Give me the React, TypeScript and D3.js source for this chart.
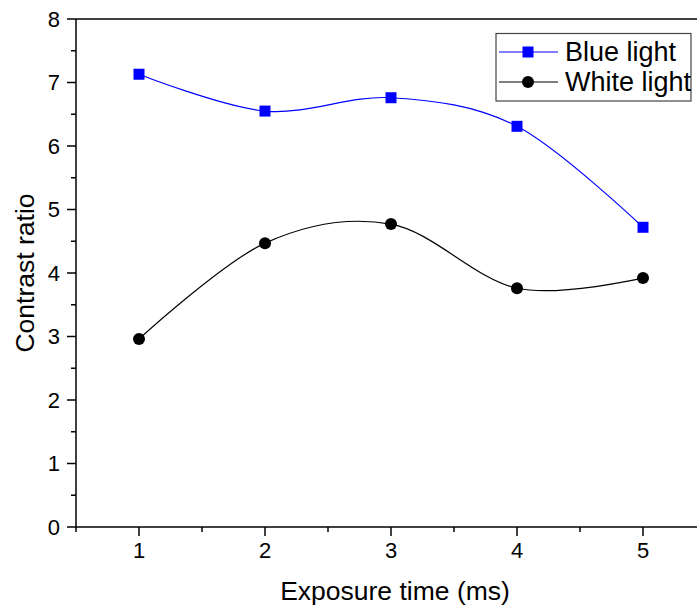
import React from "react";
import * as d3 from "d3";

const exposureTimes = [1, 2, 3, 4, 5];
const blueLight = [7.13, 6.55, 6.76, 6.31, 4.72];
const whiteLight = [2.96, 4.47, 4.77, 3.76, 3.92];
const yTicks = [0, 1, 2, 3, 4, 5, 6, 7, 8];
const xTicks = [1, 2, 3, 4, 5];
const seriesNames = ["Blue light", "White light"];

const W = 697;
const H = 608;
const left = 76;
const top = 19;
const bottom = 527;

export default function App() {
  const x = d3.scaleLinear().domain([0.5, 5.5]).range([left, left + 630]);
  const y = d3.scaleLinear().domain([0, 8]).range([bottom, top]);
  const line = d3
    .line<number>()
    .x((_, i) => x(exposureTimes[i]))
    .y((d) => y(d))
    .curve(d3.curveCardinal.tension(0));
  const font = "'Liberation Sans', Arial, sans-serif";
  const yMinor = d3.range(0.5, 8, 1);
  const xMinor = d3.range(0.5, 5.6, 1);
  const right = x(5.5);

  return (
    <svg width={W} height={H} style={{ position: "absolute", left: 0, top: 0, background: "#fff" }} fontFamily={font}>
      {/* axes frame */}
      <line x1={left} x2={right} y1={top} y2={top} stroke="#000" strokeWidth={1.5} />
      <line x1={left} x2={left} y1={top} y2={bottom} stroke="#000" strokeWidth={1.5} />
      <line x1={left} x2={right} y1={bottom} y2={bottom} stroke="#000" strokeWidth={1.5} />
      <line x1={right} x2={right} y1={top} y2={bottom} stroke="#000" strokeWidth={1.5} />
      {yTicks.map((t) => (
        <g key={"y" + t}>
          <line x1={left - 9} x2={left} y1={y(t)} y2={y(t)} stroke="#000" strokeWidth={1.5} />
          <text x={left - 16} y={y(t)} dy="0.36em" textAnchor="end" fontSize={22}>
            {t}
          </text>
        </g>
      ))}
      {yMinor.map((t) => (
        <line key={"ym" + t} x1={left - 5} x2={left} y1={y(t)} y2={y(t)} stroke="#000" strokeWidth={1.5} />
      ))}
      {xTicks.map((t) => (
        <g key={"x" + t}>
          <line x1={x(t)} x2={x(t)} y1={bottom} y2={bottom + 9} stroke="#000" strokeWidth={1.5} />
          <text x={x(t)} y={558} textAnchor="middle" fontSize={22}>
            {t}
          </text>
        </g>
      ))}
      {xMinor.map((t) => (
        <line key={"xm" + t} x1={x(t)} x2={x(t)} y1={bottom} y2={bottom + 5} stroke="#000" strokeWidth={1.5} />
      ))}
      <text x={395} y={600} textAnchor="middle" fontSize={26.5}>
        Exposure time (ms)
      </text>
      <text transform={`translate(34,${(top + bottom) / 2}) rotate(-90)`} textAnchor="middle" fontSize={26.5}>
        Contrast ratio
      </text>

      {/* series */}
      <path d={line(blueLight) || ""} fill="none" stroke="#0000ff" strokeWidth={1.2} />
      <path d={line(whiteLight) || ""} fill="none" stroke="#000" strokeWidth={1.2} />
      {blueLight.map((v, i) => (
        <rect key={"b" + i} x={x(exposureTimes[i]) - 5.5} y={y(v) - 5.5} width={11} height={11} fill="#0000ff" />
      ))}
      {whiteLight.map((v, i) => (
        <circle key={"w" + i} cx={x(exposureTimes[i])} cy={y(v)} r={6} fill="#000" />
      ))}

      {/* legend */}
      <rect x={496} y={33.5} width={195} height={67.5} fill="#fff" stroke="#444" strokeWidth={1.2} />
      <line x1={499} x2={558} y1={52} y2={52} stroke="#0000ff" strokeWidth={1.2} />
      <rect x={528 - 5.5} y={52 - 5.5} width={11} height={11} fill="#0000ff" />
      <text x={565} y={61} fontSize={27}>{seriesNames[0]}</text>
      <line x1={499} x2={558} y1={82} y2={82} stroke="#000" strokeWidth={1.2} />
      <circle cx={528} cy={82} r={6} fill="#000" />
      <text x={565} y={91} fontSize={27}>{seriesNames[1]}</text>
    </svg>
  );
}
